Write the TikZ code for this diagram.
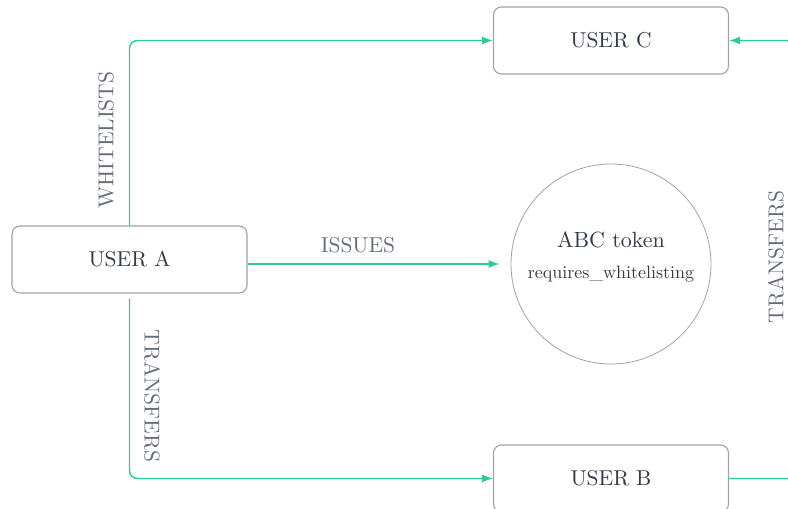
\documentclass[tikz,border=0pt]{standalone}
\usepackage{fontspec}
\setmainfont{lmroman10-regular}[Extension=.otf]
\usepackage{tikz}
\usetikzlibrary{positioning}
\usetikzlibrary{arrows.meta}

\definecolor{flowgreen}{RGB}{46,204,143}
\definecolor{boxgray}{RGB}{160,162,172}
\definecolor{inkdark}{RGB}{50,58,72}
\definecolor{labelgray}{RGB}{100,108,122}

\begin{document}
\begin{tikzpicture}[x=1pt, y=-1pt,
        user/.style={draw=boxgray, line width=1.1pt, rounded corners=8pt, minimum width=235pt, minimum height=67pt, text=inkdark, font=\fontsize{21.5}{25}\selectfont},
        flow/.style={draw=flowgreen, line width=1.4pt, rounded corners=8pt, -{Latex[length=11pt,width=8pt]}},
        lbl/.style={text=labelgray, font=\fontsize{21.5}{25}\selectfont}]
        \clip (0,0) rectangle (788,509);
        \node[user] (userA) at (129.5, 259.5) {USER A};
        \node[user] (userC) at (611, 40.5) {USER C};
        \node[user] (userB) at (611, 478.5) {USER B};
        \node[circle, draw=boxgray, line width=0.8pt, minimum size=200pt, text=inkdark, align=center, font=\fontsize{18}{31}\selectfont] (token) at (611, 264)
            {{\fontsize{22}{31}\selectfont ABC token}\\requires\_whitelisting\\[-14pt]};
        \coordinate (offR) at (808, 0);
        \draw[flow] (userA.north) |- (userC.west);
        \draw[flow, shorten >=11pt] (userA.east |- token.west) -- (token.west);
        \draw[flow] ([yshift=-5]userA.south) |- (userB.west);
        \draw[flow] (userB.east) -- (userB.east -| offR) |- (userC.east);
        \node[lbl, rotate=90] (whitelists) at (106, 140) {WHITELISTS};
        \node[lbl] (issues) at (358, 245) {ISSUES};
        \node[lbl, rotate=-90] (transfersAB) at (152, 396) {TRANSFERS};
        \node[lbl, rotate=90] (transfersBC) at (776, 257) {TRANSFERS};
    \end{tikzpicture}
\end{document}
